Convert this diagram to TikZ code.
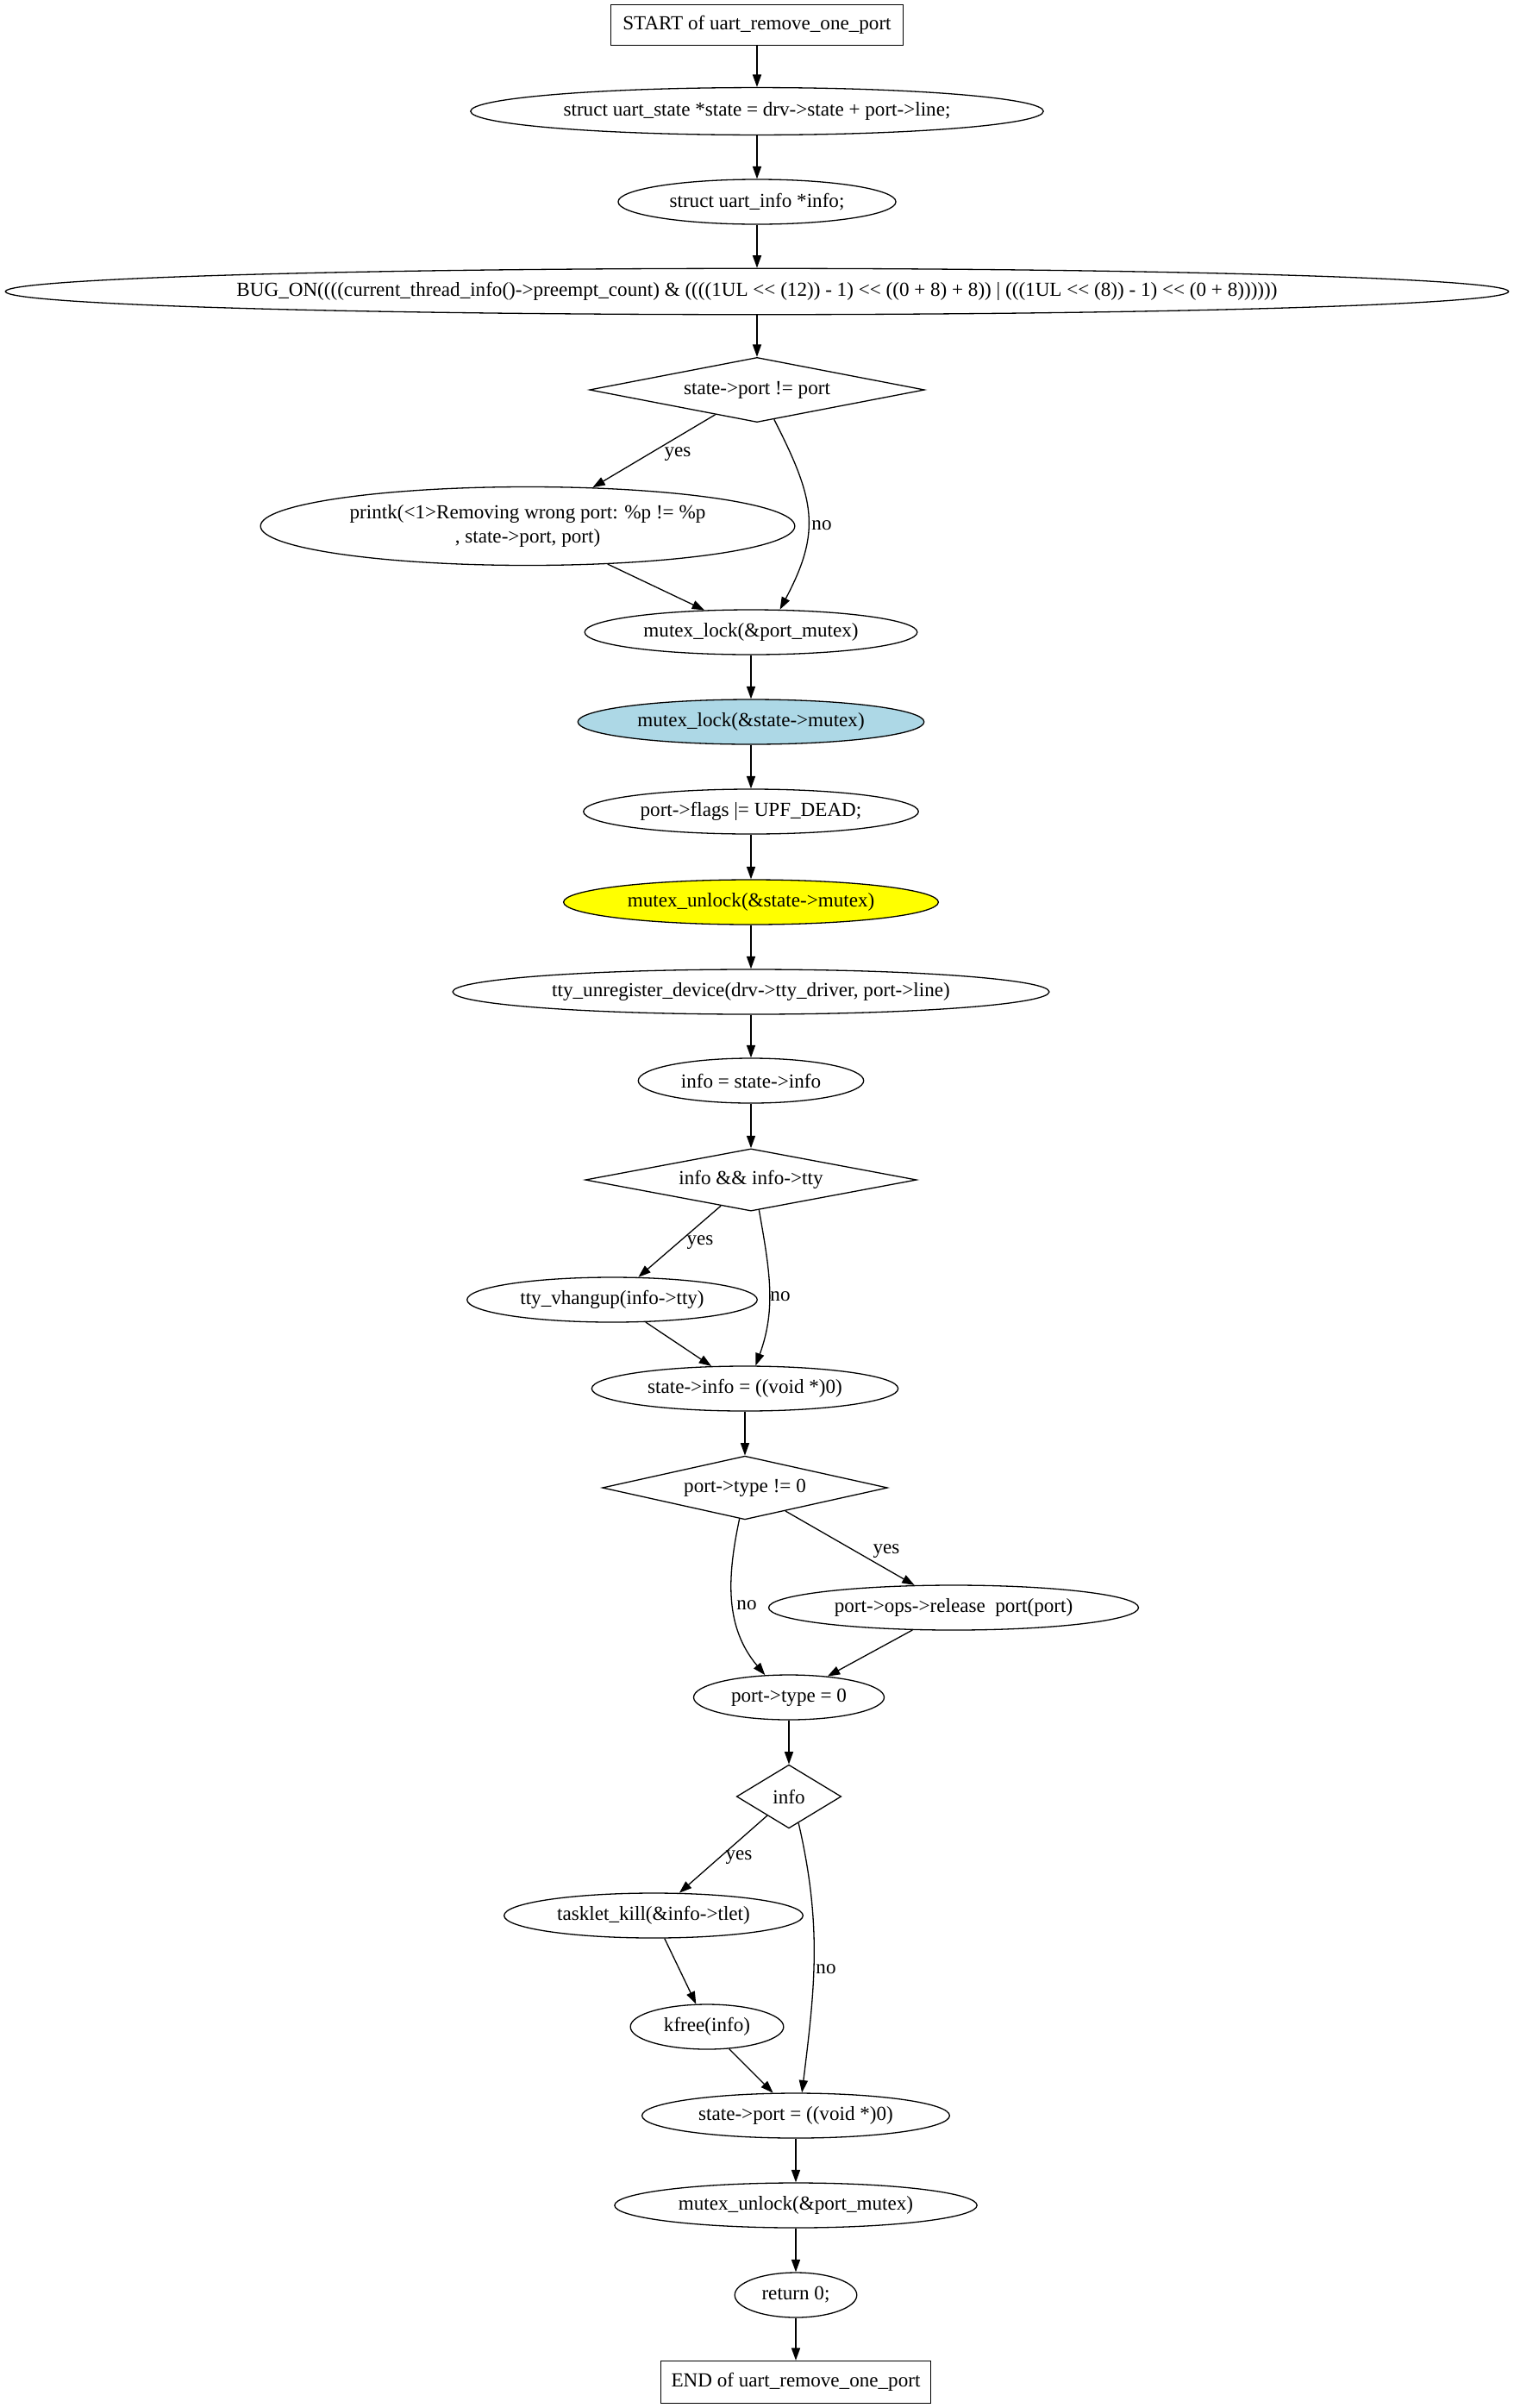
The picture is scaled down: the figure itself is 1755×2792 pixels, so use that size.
\documentclass[tikz,border=0pt]{standalone}
\usepackage{fontspec}
\setmainfont{Liberation Serif}[Ligatures=TeXOff]
\usetikzlibrary{shapes.geometric,arrows.meta}
\definecolor{lockblue}{RGB}{173,216,230}
\definecolor{unlockyellow}{RGB}{255,255,0}

\begin{document}
\begin{tikzpicture}[x=0.6923pt, y=-0.6923pt, line width=0.9pt,
        every node/.style={font=\fontsize{16}{19.4}\selectfont},
        slim/.style={execute at begin node={\hbox to 0pt\bgroup\hss},
                     execute at end node={\hss\egroup}},
        stmt/.style={draw, ellipse, slim, inner sep=0pt, minimum height=36pt},
        cond/.style={draw, diamond, slim, inner sep=0pt},
        term/.style={draw, rectangle, inner sep=0pt},
        arr/.style={-{Triangle[length=10pt, width=7pt]}}]
            \useasboundingbox (0,0) rectangle (1755,2792);

            \node[term, minimum width=235pt, minimum height=33pt] (start) at (878,29) {START of uart\_remove\_one\_port};
            \node[stmt, minimum width=460pt, minimum height=38pt] (state) at (878,129) {struct uart\_state *state = drv->state + port->line;};
            \node[stmt, minimum width=223pt] (uinfo) at (878,234) {struct uart\_info *info;};
            \node[stmt, minimum width=1207pt, minimum height=37pt] (bugon) at (878,338) {BUG\_ON((((current\_thread\_info()->preempt\_count) \& ((((1UL << (12)) - 1) << ((0 + 8) + 8)) | (((1UL << (8)) - 1) << (0 + 8))))))};
            \node[cond, minimum width=269pt, minimum height=52pt] (portchk) at (878,452) {state->port != port};
            \node[stmt, minimum width=429pt, minimum height=63pt] (printk) at (612,610) {\begin{tabular}{@{}c@{}}printk(<1>Removing wrong port: \%p != \%p\\, state->port, port)\end{tabular}};
            \node[stmt, minimum width=267pt] (lockport) at (871,733) {mutex\_lock(\&port\_mutex)};
            \node[stmt, fill=lockblue, minimum width=278pt] (lockstate) at (871,837) {mutex\_lock(\&state->mutex)};
            \node[stmt, minimum width=269pt] (flags) at (871,941) {port->flags |= UPF\_DEAD;};
            \node[stmt, fill=unlockyellow, minimum width=301pt] (unlockstate) at (871,1046) {mutex\_unlock(\&state->mutex)};
            \node[stmt, minimum width=479pt] (ttyunreg) at (871,1150) {tty\_unregister\_device(drv->tty\_driver, port->line)};
            \node[stmt, minimum width=181pt] (getinfo) at (871,1253) {info = state->info};
            \node[cond, minimum width=266pt, minimum height=50pt] (ttychk) at (871,1368) {info \&\& info->tty};
            \node[stmt, minimum width=233pt] (hangup) at (710,1507) {tty\_vhangup(info->tty)};
            \node[stmt, minimum width=246pt] (infonull) at (864,1610) {state->info = ((void *)0)};
            \node[cond, minimum width=229pt, minimum height=51pt] (typechk) at (864,1725) {port->type != 0};
            \node[stmt, minimum width=297pt] (release) at (1106,1864) {port->ops->release\phantom{\_}port(port)};
            \node[stmt, minimum width=153pt] (typezero) at (915,1968) {port->type = 0};
            \node[cond, minimum width=84pt, minimum height=51pt] (infochk) at (915,2083) {info};
            \node[stmt, minimum width=240pt] (tasklet) at (758,2221) {tasklet\_kill(\&info->tlet)};
            \node[stmt, minimum width=123pt] (kfree) at (820,2350) {kfree(info)};
            \node[stmt, minimum width=247pt] (portnull) at (923,2453) {state->port = ((void *)0)};
            \node[stmt, minimum width=291pt] (unlockport) at (923,2557) {mutex\_unlock(\&port\_mutex)};
            \node[stmt, minimum width=98pt] (ret) at (923,2661) {return 0;};
            \node[term, minimum width=217pt, minimum height=34pt] (finish) at (923,2762) {END of uart\_remove\_one\_port};

            \node (yes1) at (786,527) {yes};
            \node (no1) at (953,609) {no};
            \node (yes2) at (812,1441) {yes};
            \node (no2) at (905,1503) {no};
            \node (yes3) at (1028,1799) {yes};
            \node (no3) at (866,1861) {no};
            \node (yes4) at (857,2154) {yes};
            \node (no4) at (958,2283) {no};

            \draw[arr] (start) -- (state);
            \draw[arr] (state) -- (uinfo);
            \draw[arr] (uinfo) -- (bugon);
            \draw[arr] (bugon) -- (portchk);
            \draw[arr] (portchk) -- (printk);
            \draw[arr] (portchk.-60) to[out=-63, in=62, looseness=1.2] (lockport.38);
            \draw[arr] (printk) -- (lockport);
            \draw[arr] (lockport) -- (lockstate);
            \draw[arr] (lockstate) -- (flags);
            \draw[arr] (flags) -- (unlockstate);
            \draw[arr] (unlockstate) -- (ttyunreg);
            \draw[arr] (ttyunreg) -- (getinfo);
            \draw[arr] (getinfo) -- (ttychk);
            \draw[arr] (ttychk) -- (hangup);
            \draw[arr] (ttychk.-75) to[out=-80, in=70] (infonull.65);
            \draw[arr] (hangup) -- (infonull);
            \draw[arr] (infonull) -- (typechk);
            \draw[arr] (typechk) -- (release);
            \draw[arr] (typechk.-100) to[out=-102, in=130] (typezero.137);
            \draw[arr] (release) -- (typezero);
            \draw[arr] (typezero) -- (infochk);
            \draw[arr] (infochk) -- (tasklet);
            \draw[arr] (infochk.-70) to[out=-77, in=83] (portnull.75);
            \draw[arr] (tasklet) -- (kfree);
            \draw[arr] (kfree) -- (portnull);
            \draw[arr] (portnull) -- (unlockport);
            \draw[arr] (unlockport) -- (ret);
            \draw[arr] (ret) -- (finish);
\end{tikzpicture}
\end{document}
